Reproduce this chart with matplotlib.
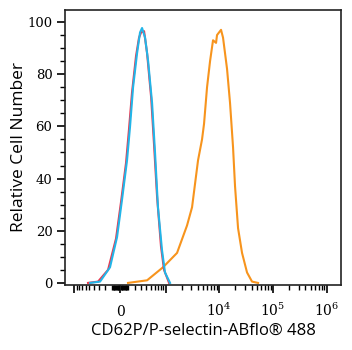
import numpy as np
import matplotlib
matplotlib.use("Agg")
import matplotlib.pyplot as plt
from matplotlib.ticker import FixedLocator, MultipleLocator

plt.rcParams['mathtext.fontset'] = 'dejavuserif'

# ---- data (fluorescence intensity, relative cell number) ----
blue_x = [-479, -279, -128, -37, 25, 88, 128, 170, 230, 279, 315, 373, 438, 533, 614, 705, 847, 969, 1212]
blue_y = [0, 0.5, 6, 17.6, 32, 47, 60, 75, 88, 96, 97.7, 94, 85, 69, 50, 29, 12.6, 4, 0]

red_x = [-533, -315, -155, -50, 12, 75, 114, 155, 214, 262, 297, 353, 415, 510, 586, 676, 809, 928, 1160]
red_y = [0, 0.5, 5, 17, 31, 46, 59, 73, 87, 94, 96, 96.5, 88, 71, 53, 33, 14, 5, 0]

orange_x = [101, 415, 888, 1645, 2530, 3141, 3570, 4060, 4817, 5250, 5970, 6790, 7710, 8770, 9150,
            10860, 11830, 14040, 15950, 18140, 19760, 22470, 26650, 32990, 40830, 52780]
orange_y = [0, 1, 6, 11.5, 22, 29, 38, 47, 55, 61, 75, 85, 93, 92, 95,
            97, 94, 82, 69, 52, 37, 21, 11.5, 4, 0.5, 0]

x_major = [-1000, 0, 1000, 1e4, 1e5, 1e6]
x_labels = ["", "0", "", r"$10^4$", r"$10^5$", r"$10^6$"]
y_ticks = [0, 20, 40, 60, 80, 100]

COF = 290.0

fig = plt.figure(figsize=(3.52, 3.50), dpi=100)
ax = fig.add_axes([65/352, 1-285/350, (341-65)/352, (285-10)/350])

ax.set_xscale('function', functions=(lambda v: np.arcsinh(np.asarray(v)/COF),
                                     lambda v: COF*np.sinh(np.asarray(v))))

ax.plot(orange_x, orange_y, color='#f7941d', lw=1.5)
ax.plot(red_x, red_y, color='#e8384f', lw=1.5)
ax.plot(blue_x, blue_y, color='#22b5e8', lw=1.5)

ax.set_xlim(-1510, 1.83e6)
ax.set_ylim(-0.8, 104.6)

minor = []
for d in [10, 100]:
    for m in range(1, 10):
        minor += [m*d, -m*d]
for d in [1000, 1e4, 1e5]:
    for m in range(2, 10):
        minor.append(m*d)
ax.xaxis.set_major_locator(FixedLocator(x_major))
ax.xaxis.set_minor_locator(FixedLocator(minor))
ax.set_xticks(x_major)
ax.set_xticklabels(x_labels, fontfamily='DejaVu Serif', fontsize=10)
for t in ax.get_xticklabels():
    t.set_verticalalignment('baseline')

ax.set_yticks(y_ticks)
ax.yaxis.set_minor_locator(MultipleLocator(5))
ax.set_yticklabels([str(v) for v in y_ticks], fontfamily='DejaVu Serif', fontsize=9.5)

ax.tick_params(axis='x', which='major', direction='out', length=6, width=1.2, pad=16)
ax.tick_params(axis='x', which='minor', direction='out', length=3.5, width=1.0)
ax.tick_params(axis='y', which='major', direction='out', length=6, width=1.2, pad=3)
ax.tick_params(axis='y', which='minor', direction='out', length=3.5, width=1.0)

for s in ax.spines.values():
    s.set_color('#222222')
    s.set_linewidth(1.2)

ax.set_ylabel('Relative Cell Number', fontfamily='Open Sans', fontsize=12.5, labelpad=0)
ax.set_xlabel('CD62P/P-selectin-ABflo® 488', fontfamily='Open Sans', fontsize=12, labelpad=3)

fig.savefig('out.png', dpi=100)
